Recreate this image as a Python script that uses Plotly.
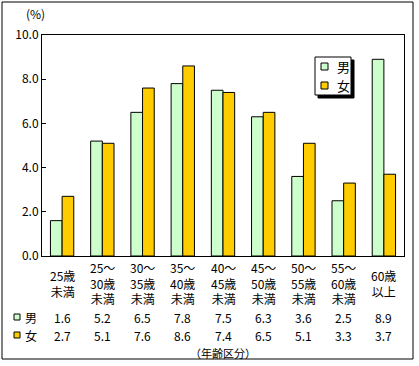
import plotly.graph_objects as go

categories = ["25歳<br>未満", "25～<br>30歳<br>未満", "30～<br>35歳<br>未満", "35～<br>40歳<br>未満",
              "40～<br>45歳<br>未満", "45～<br>50歳<br>未満", "50～<br>55歳<br>未満", "55～<br>60歳<br>未満",
              "60歳<br>以上"]
male = [1.6, 5.2, 6.5, 7.8, 7.5, 6.3, 3.6, 2.5, 8.9]
female = [2.7, 5.1, 7.6, 8.6, 7.4, 6.5, 5.1, 3.3, 3.7]
series_names = ["男", "女"]
x_title = "（年齢区分）"
y_unit = "(%)"

W, H = 419, 366
L, R, T, B = 42, 404, 35, 256
PW, PH = R - L, B - T


def px(x):
    return (x - L) / PW


def py(y):
    return (B - y) / PH


GREEN = "#CCFFCC"
ORANGE = "#FFCC00"
FONT = "Noto Sans CJK JP"

xs = list(range(len(categories)))

fig = go.Figure()
fig.add_trace(go.Bar(x=xs, y=male, name=series_names[0], marker=dict(color=GREEN, line=dict(color="black", width=1))))
fig.add_trace(go.Bar(x=xs, y=female, name=series_names[1], marker=dict(color=ORANGE, line=dict(color="black", width=1))))

shapes = []
ann = []
# outer border
shapes.append(dict(type="rect", xref="paper", yref="paper", x0=px(2), x1=px(413), y0=py(359), y1=py(2),
                   line=dict(color="black", width=1), fillcolor="rgba(0,0,0,0)", layer="below"))
# legend shadow + box
shapes.append(dict(type="rect", xref="paper", yref="paper", x0=px(318), x1=px(354), y0=py(98), y1=py(60),
                   line=dict(color="black", width=1), fillcolor="black"))
shapes.append(dict(type="rect", xref="paper", yref="paper", x0=px(315), x1=px(351), y0=py(95), y1=py(57),
                   line=dict(color="black", width=1), fillcolor="white"))
# legend squares
for (y0, col, name) in [(63, GREEN, series_names[0]), (82, ORANGE, series_names[1])]:
    shapes.append(dict(type="rect", xref="paper", yref="paper", x0=px(321), x1=px(328), y0=py(y0 + 7), y1=py(y0),
                       line=dict(color="black", width=1), fillcolor=col))
    ann.append(dict(xref="paper", yref="paper", x=px(335), y=py(y0 + 3.5), text=name, showarrow=False,
                    xanchor="left", yanchor="middle", font=dict(size=13, family=FONT, color="black")))

ROW1, ROW2 = 317, 335
# table row markers
for (yc, col, name) in [(ROW1, GREEN, series_names[0]), (ROW2, ORANGE, series_names[1])]:
    shapes.append(dict(type="rect", xref="paper", yref="paper", x0=px(14), x1=px(20), y0=py(yc + 3), y1=py(yc - 3),
                       line=dict(color="black", width=1), fillcolor=col))
    ann.append(dict(xref="paper", yref="paper", x=px(24), y=py(yc), text=name, showarrow=False, borderpad=0,
                    xanchor="left", yanchor="middle", font=dict(size=12, family=FONT, color="black")))

for i, c in enumerate(categories):
    ann.append(dict(x=i, xref="x", yref="paper", y=py(283), text=c, showarrow=False, yanchor="middle",
                    xanchor="center", borderpad=0, font=dict(size=12, family=FONT, color="black")))
    ann.append(dict(x=i, xref="x", yref="paper", y=py(ROW1), text=f"{male[i]:.1f}", showarrow=False, borderpad=0,
                    yanchor="middle", font=dict(size=12, family=FONT, color="black")))
    ann.append(dict(x=i, xref="x", yref="paper", y=py(ROW2), text=f"{female[i]:.1f}", showarrow=False, borderpad=0,
                    yanchor="middle", font=dict(size=12, family=FONT, color="black")))

ann.append(dict(xref="paper", yref="paper", x=px(223), y=py(353), text=x_title, showarrow=False, borderpad=0,
                yanchor="middle", font=dict(size=11, family=FONT, color="black")))
ann.append(dict(xref="paper", yref="paper", x=px(24), y=py(14), text=y_unit, showarrow=False,
                yanchor="middle", font=dict(size=12, family=FONT, color="black")))

fig.update_layout(
    width=W, height=H,
    margin=dict(l=L, r=W - R, t=T, b=H - B, pad=0),
    paper_bgcolor="white", plot_bgcolor="white",
    barmode="group", bargap=0.42, bargroupgap=0,
    showlegend=False,
    font=dict(family=FONT, size=12, color="black"),
    shapes=shapes, annotations=ann,
    xaxis=dict(range=[-0.5, len(categories) - 0.5], showticklabels=False, ticks="", showgrid=False,
               showline=True, linecolor="black", linewidth=1, mirror=True, zeroline=False),
    yaxis=dict(range=[0, 10], dtick=2, tickformat=".1f", ticks="inside", ticklen=4, tickcolor="black",
               showgrid=False, showline=True, linecolor="black", linewidth=1, mirror=True, zeroline=False,
               tickfont=dict(size=12, family=FONT)),
)

fig.write_html("out.html", config={"displayModeBar": False},
               post_script="document.body.style.margin='0';")
